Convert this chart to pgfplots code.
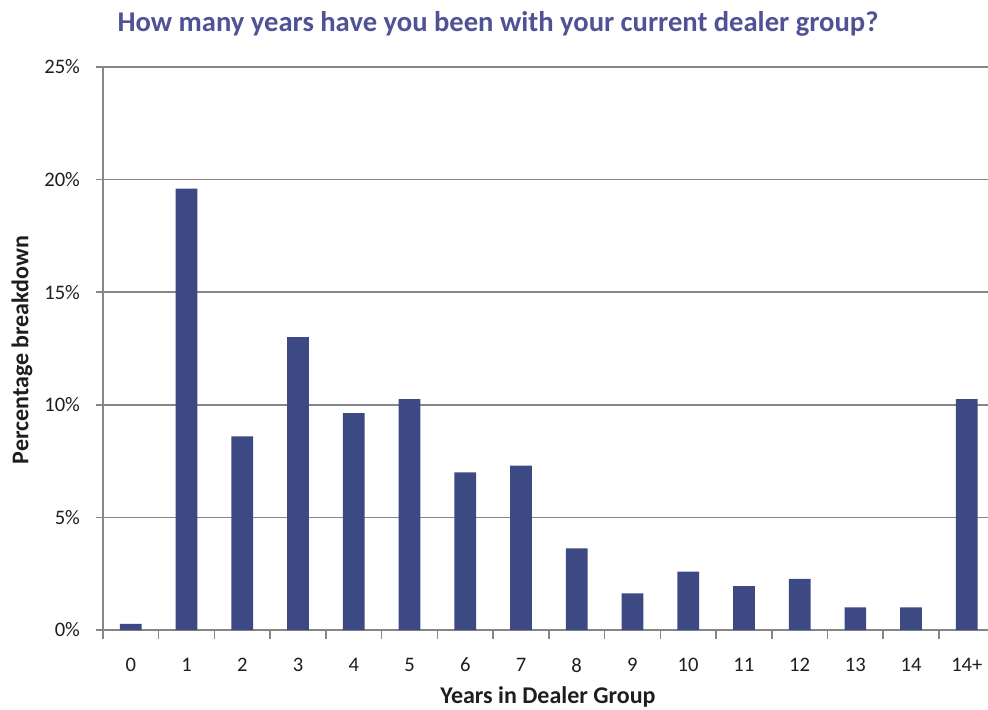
\documentclass[border=0pt]{standalone}
\usepackage{pgfplots}
\pgfplotsset{compat=1.18}
\usepackage{fontspec}
\setmainfont{Carlito}
\definecolor{barblue}{RGB}{61,73,130}
\definecolor{titleblue}{RGB}{80,82,150}
\definecolor{gridgray}{RGB}{134,134,134}
\definecolor{labeltext}{RGB}{30,30,30}
\begin{document}
\begin{tikzpicture}
\useasboundingbox (0,0) rectangle (494pt,354.5pt);
\begin{axis}[
  at={(51.5pt,39.5pt)}, anchor=south west,
  scale only axis, width=442.5pt, height=281.5pt,
  xmin=-0.5, xmax=15.38, ymin=0, ymax=25,
  axis x line*=bottom, axis y line*=left,
  axis line style={-, draw=gridgray, line width=0.75pt},
  xtick={0,...,15},
  xticklabels={0,1,2,3,4,5,6,7,8,9,10,11,12,13,14,14+},
  major x tick style={draw=none},
  minor xtick={-0.5,0.5,...,14.5},
  minor tick length=4.5pt,
  major tick length=3.5pt,
  tick align=outside,
  tick style={draw=gridgray, line width=0.75pt},
  ytick={0,5,10,15,20,25},
  yticklabels={0\%,5\%,10\%,15\%,20\%,25\%},
  ymajorgrids,
  grid style={draw=gridgray, line width=0.75pt},
  ticklabel style={font=\fontsize{10.3pt}{12pt}\selectfont, text=labeltext},
  xticklabel style={yshift=-7pt},
  yticklabel style={xshift=-4.5pt},
  clip=false,
]
\addplot[ybar, bar width=0.39, fill=barblue, draw=none] coordinates {
  (0,0.27) (1,19.6) (2,8.6) (3,13.0) (4,9.63) (5,10.25) (6,7.0) (7,7.3)
  (8,3.63) (9,1.63) (10,2.59) (11,1.95) (12,2.27) (13,1.01) (14,1.01) (15,10.25)
};
\end{axis}
\node[anchor=base, text=titleblue, font=\fontsize{14.3pt}{16pt}\selectfont\bfseries] at (249pt,338.75pt)
  {How many years have you been with your current dealer group?};
\node[rotate=90, text=labeltext, font=\fontsize{12pt}{14pt}\selectfont\bfseries] at (11pt,179.5pt)
  {Percentage breakdown};
\node[anchor=base, text=labeltext, font=\fontsize{12pt}{14pt}\selectfont\bfseries] at (274pt,2.8pt)
  {Years in Dealer Group};
\end{tikzpicture}
\end{document}
